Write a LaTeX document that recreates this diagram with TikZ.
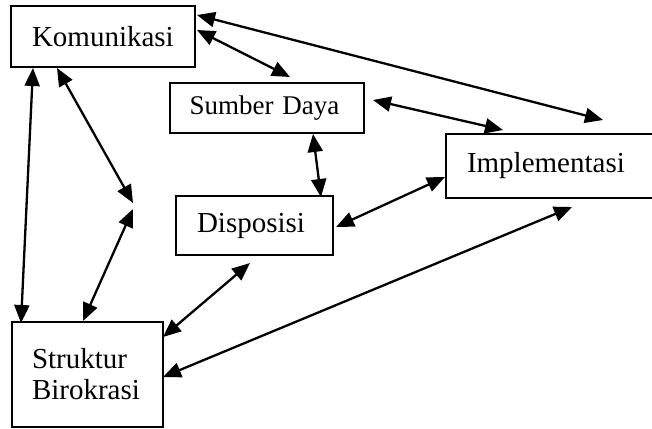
\documentclass[tikz,border=0pt]{standalone}
\usepackage{fontspec}
\setmainfont{Liberation Serif}
\usetikzlibrary{arrows.meta}
\begin{document}
\begin{tikzpicture}[x=1pt,y=-1pt,
  box/.style={draw, line width=2pt, rectangle, inner sep=0pt, align=left,
    font=\fontsize{29}{31}\selectfont},
  link/.style={line width=2.3pt,
    {Triangle[length=18pt,width=15pt]}-{Triangle[length=18pt,width=15pt]}}]
\useasboundingbox (0,0) rectangle (652,428);
\clip (0,0) rectangle (652,428);
% boxes
\node[box, minimum width=184pt, minimum height=61pt, text width=142pt] (kom) at (103,36.5) {Komunikasi};
\node[box, minimum width=194pt, minimum height=50pt, text width=155pt,
  font=\fontsize{27}{30}\selectfont] (sd) at (267,108) {Sumber Daya};
\node[box, minimum width=260pt, minimum height=64pt, text width=218pt] (imp) at (576,166) {Implementasi};
\node[box, minimum width=157pt, minimum height=59pt, text width=115pt] (disp) at (254.5,225.5) {Disposisi};
\node[box, minimum width=151pt, minimum height=105pt, text width=111pt] (struk) at (87.5,374.5) {Struktur\\Birokrasi};
% connector end points
\coordinate (kom-imp) at (197,15);   \coordinate (imp-kom) at (603,120);
\coordinate (kom-sd) at (197,30);    \coordinate (sd-kom) at (290,77);
\coordinate (kom-st) at (33,68);     \coordinate (st-kom) at (21,323);
\coordinate (kom-mid) at (57,68);    \coordinate (mid-kom) at (133,203);
\coordinate (mid-st) at (133,209);   \coordinate (st-mid) at (83,321);
\coordinate (sd-disp) at (313,134);  \coordinate (disp-sd) at (321,197);
\coordinate (sd-imp) at (373,100);   \coordinate (imp-sd) at (503,130);
\coordinate (disp-imp) at (336,227); \coordinate (imp-disp) at (445,177);
\coordinate (disp-st) at (250,263);  \coordinate (st-disp) at (163,337);
\coordinate (imp-st) at (572,207);   \coordinate (st-imp) at (163,377);
% connectors
\draw[link] (kom-imp) -- (imp-kom);
\draw[link] (kom-sd) -- (sd-kom);
\draw[link] (kom-st) -- (st-kom);
\draw[link] (kom-mid) -- (mid-kom);
\draw[link] (mid-st) -- (st-mid);
\draw[link] (sd-disp) -- (disp-sd);
\draw[link] (sd-imp) -- (imp-sd);
\draw[link] (disp-imp) -- (imp-disp);
\draw[link] (disp-st) -- (st-disp);
\draw[link] (imp-st) -- (st-imp);
\end{tikzpicture}
\end{document}
